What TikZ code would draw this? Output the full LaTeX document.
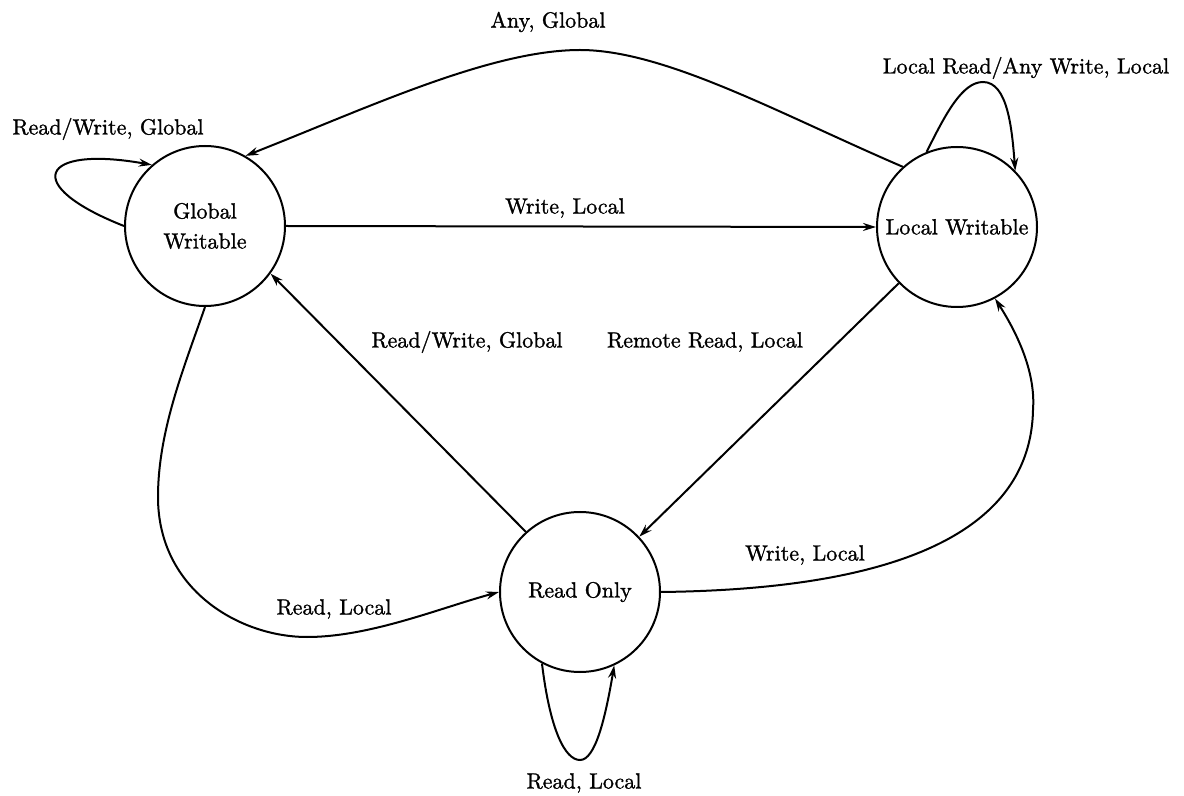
\documentclass[tikz,border=0pt]{standalone}
\usepackage{fontspec}
\setmainfont{lmroman10-regular.otf}[FakeBold=1.2]
\usetikzlibrary{arrows.meta}
\begin{document}
\begin{tikzpicture}[x=0.5pt,y=-0.5pt,
  state/.style={draw,circle,line width=1pt,minimum size=80pt,inner sep=0pt,align=center,font=\fontsize{11}{13}\selectfont},
  lbl/.style={inner sep=0pt,font=\fontsize{11}{13}\selectfont},
  edge/.style={line width=1pt,-{Stealth[length=6.5pt,width=4pt]}}]
\useasboundingbox (0,0) rectangle (1184,796);

% states
\node[state] (gw) at (205,226) {Global\\[2pt]Writable};
\node[state] (lw) at (957,227) {Local Writable};
\node[state] (ro) at (580,592) {Read Only};

% transition labels
\node[lbl] (l1) at (108,129) {Read/Write, Global};
\node[lbl] (l2) at (548,22) {Any, Global};
\node[lbl] (l3) at (1026,68) {Local Read/Any Write, Local};
\node[lbl] (l4) at (565,208) {Write, Local};
\node[lbl] (l5) at (467,342) {Read/Write, Global};
\node[lbl] (l6) at (705,342) {Remote Read, Local};
\node[lbl] (l7) at (805,555) {Write, Local};
\node[lbl] (l8) at (334,609) {Read, Local};
\node[lbl] (l9) at (584,783) {Read, Local};

% self loop on Global Writable
\draw[edge] (gw.180) .. controls (20,185) and (40,145) .. (gw.131);
% Local Writable -> Global Writable
\draw[edge] (lw.132) .. controls (780,114) and (665,50) .. (580,50)
  .. controls (490,50) and (365,109) .. (gw.60);
% self loop on Local Writable
\draw[edge] (lw.112) .. controls (945,115) and (962,82) .. (983,82)
  .. controls (1008,82) and (1012,130) .. (lw.44);
% Global Writable -> Local Writable
\draw[edge] (gw.east) -- (lw.west);
% Read Only -> Global Writable
\draw[edge] (ro.132) -- (gw.-36);
% Local Writable -> Read Only
\draw[edge] (lw.-136) -- (ro.43);
% Read Only -> Local Writable
\draw[edge] (ro.east) .. controls (830,590) and (1030,560) .. (1033,410)
  .. controls (1036,370) and (1015,330) .. (lw.-62);
% Global Writable -> Read Only
\draw[edge] (gw.south) .. controls (185,365) and (158,430) .. (158,497)
  .. controls (158,590) and (240,637) .. (307,637)
  .. controls (370,637) and (440,608) .. (ro.west);
% self loop on Read Only
\draw[edge] (ro.-118) .. controls (550,730) and (565,760) .. (580,760)
  .. controls (595,760) and (605,720) .. (ro.-65);
\end{tikzpicture}
\end{document}
